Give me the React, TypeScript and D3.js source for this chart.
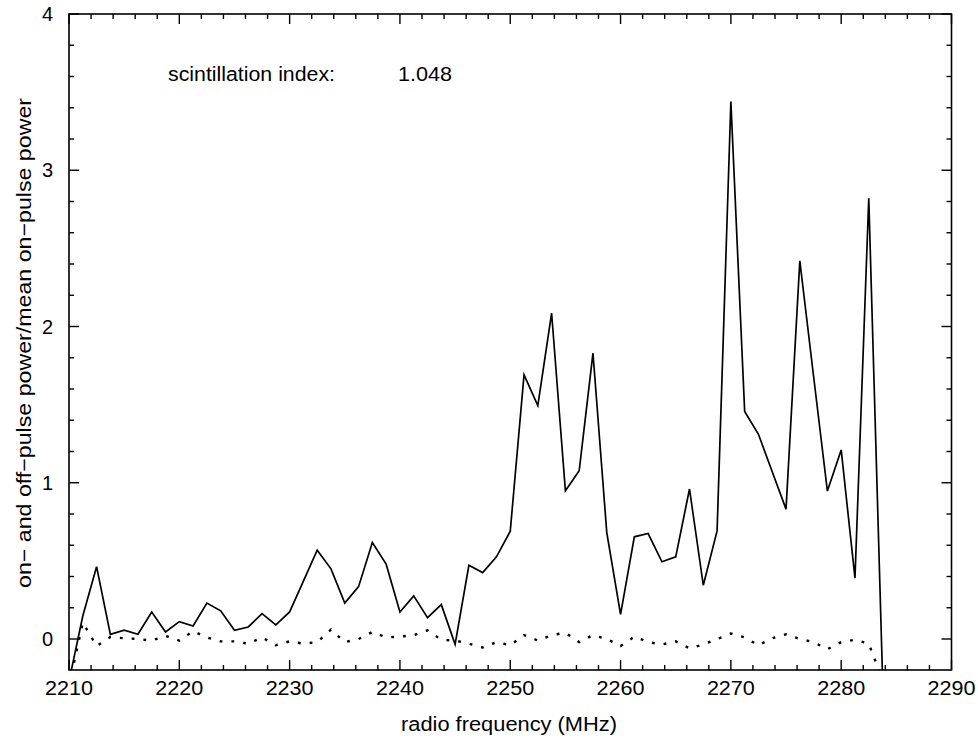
import React from 'react';
import * as d3 from 'd3';

// channel centre frequencies (MHz)
const freqs = [
  2210, 2211.25, 2212.5, 2213.75, 2215, 2216.25, 2217.5, 2218.75, 2220, 2221.25,
  2222.5, 2223.75, 2225, 2226.25, 2227.5, 2228.75, 2230, 2231.25, 2232.5, 2233.75,
  2235, 2236.25, 2237.5, 2238.75, 2240, 2241.25, 2242.5, 2243.75, 2245, 2246.25,
  2247.5, 2248.75, 2250, 2251.25, 2252.5, 2253.75, 2255, 2256.25, 2257.5, 2258.75,
  2260, 2261.25, 2262.5, 2263.75, 2265, 2266.25, 2267.5, 2268.75, 2270, 2271.25,
  2272.5, 2273.75, 2275, 2276.25, 2277.5, 2278.75, 2280, 2281.25, 2282.5, 2283.75,
];

// on-pulse power / mean on-pulse power
const onPulse = [
  -0.27, 0.147, 0.463, 0.03, 0.056, 0.03, 0.173, 0.045, 0.111, 0.083,
  0.23, 0.18, 0.056, 0.077, 0.162, 0.09, 0.173, 0.37, 0.568, 0.449,
  0.23, 0.335, 0.617, 0.479, 0.173, 0.276, 0.137, 0.22, -0.034, 0.472,
  0.425, 0.526, 0.69, 1.69, 1.494, 2.085, 0.949, 1.077, 1.829, 0.681,
  0.158, 0.654, 0.675, 0.494, 0.526, 0.96, 0.344, 0.692, 3.44, 1.456,
  1.31, 1.07, 0.831, 2.42, 1.68, 0.947, 1.21, 0.39, 2.82, -0.25,
];

// off-pulse power / mean on-pulse power
const offPulse = [
  -0.3, 0.105, -0.045, 0.013, 0.005, 0.0, -0.01, 0.02, -0.01, 0.05,
  0.01, -0.015, -0.015, -0.03, 0.01, -0.04, -0.015, -0.03, -0.02, 0.06,
  -0.02, 0.0, 0.045, 0.01, 0.015, 0.025, 0.055, -0.005, -0.01, -0.03,
  -0.055, -0.02, -0.04, 0.025, -0.01, 0.025, 0.04, -0.02, 0.025, 0.0,
  -0.045, 0.015, -0.02, -0.035, -0.015, -0.06, -0.035, 0.0, 0.035, 0.01,
  -0.04, 0.005, 0.03, 0.0, -0.02, -0.065, -0.02, -0.005, -0.03, -0.26,
];

const xMajor = [2210, 2220, 2230, 2240, 2250, 2260, 2270, 2280, 2290];
const yMajor = [0, 1, 2, 3, 4];
const indexLabel = 'scintillation index:';
const indexValue = '1.048';

const W = 978;
const H = 741;
const left = 69;
const right = 951.5;
const top = 14;
const bottom = 670;
const font = '"Liberation Sans", Arial, sans-serif';

export default function App() {
  const x = d3.scaleLinear().domain([2210, 2290]).range([left, right]);
  const y = d3.scaleLinear().domain([0, 4]).range([639, top]);

  const xMinor = x.ticks(40).filter(v => !xMajor.includes(v));
  const yMinor = y.ticks(20).filter(v => !yMajor.includes(Math.round(v * 1000) / 1000) && y(v) < bottom);

  const line = d3.line<number>()
    .x((_, i) => x(freqs[i]))
    .y(d => y(d));

  return (
    <svg width={W} height={H} style={{ position: 'absolute', left: 0, top: 0, background: '#fff' }}
      fontFamily={font}>
      <defs>
        <clipPath id="plot">
          <rect x={left} y={top} width={right - left} height={bottom - top} />
        </clipPath>
      </defs>

      <g clipPath="url(#plot)" fill="none" stroke="#000">
        <path d={line(onPulse) ?? ''} strokeWidth={1.7} strokeLinejoin="miter" />
        <path d={line(offPulse) ?? ''} strokeWidth={2.4} strokeDasharray="2.8 9" />
      </g>

      {/* frame */}
      <rect x={left} y={top} width={right - left} height={bottom - top} fill="none" stroke="#000" strokeWidth={1.6} />

      {/* ticks on all four sides */}
      <g stroke="#000" strokeWidth={1.4}>
        {xMajor.map(v => (
          <g key={'xM' + v}>
            <line x1={x(v)} x2={x(v)} y1={bottom} y2={bottom - 10} />
            <line x1={x(v)} x2={x(v)} y1={top} y2={top + 10} />
          </g>
        ))}
        {xMinor.map(v => (
          <g key={'xm' + v}>
            <line x1={x(v)} x2={x(v)} y1={bottom} y2={bottom - 5} />
            <line x1={x(v)} x2={x(v)} y1={top} y2={top + 5} />
          </g>
        ))}
        {yMajor.map(v => (
          <g key={'yM' + v}>
            <line x1={left} x2={left + 10} y1={y(v)} y2={y(v)} />
            <line x1={right} x2={right - 10} y1={y(v)} y2={y(v)} />
          </g>
        ))}
        {yMinor.map(v => (
          <g key={'ym' + v}>
            <line x1={left} x2={left + 5} y1={y(v)} y2={y(v)} />
            <line x1={right} x2={right - 5} y1={y(v)} y2={y(v)} />
          </g>
        ))}
      </g>

      {/* tick labels */}
      <g fontSize={20} fill="#000">
        {xMajor.map(v => (
          <text key={'xl' + v} x={x(v)} y={695} textAnchor="middle" textLength={48} lengthAdjust="spacingAndGlyphs">
            {v}
          </text>
        ))}
        {yMajor.map(v => (
          <text key={'yl' + v} x={53} y={y(v) + 7} textAnchor="end">
            {v}
          </text>
        ))}
      </g>

      {/* axis titles */}
      <text x={401} y={731} fontSize={20} textLength={216} lengthAdjust="spacingAndGlyphs">
        radio frequency (MHz)
      </text>
      <text transform="translate(31,588) rotate(-90)" fontSize={20} textLength={490} lengthAdjust="spacingAndGlyphs">
        on− and off−pulse power/mean on−pulse power
      </text>

      {/* annotation */}
      <text x={168} y={81} fontSize={20} textLength={167} lengthAdjust="spacingAndGlyphs">{indexLabel}</text>
      <text x={398} y={81} fontSize={20} textLength={54} lengthAdjust="spacingAndGlyphs">{indexValue}</text>
    </svg>
  );
}
